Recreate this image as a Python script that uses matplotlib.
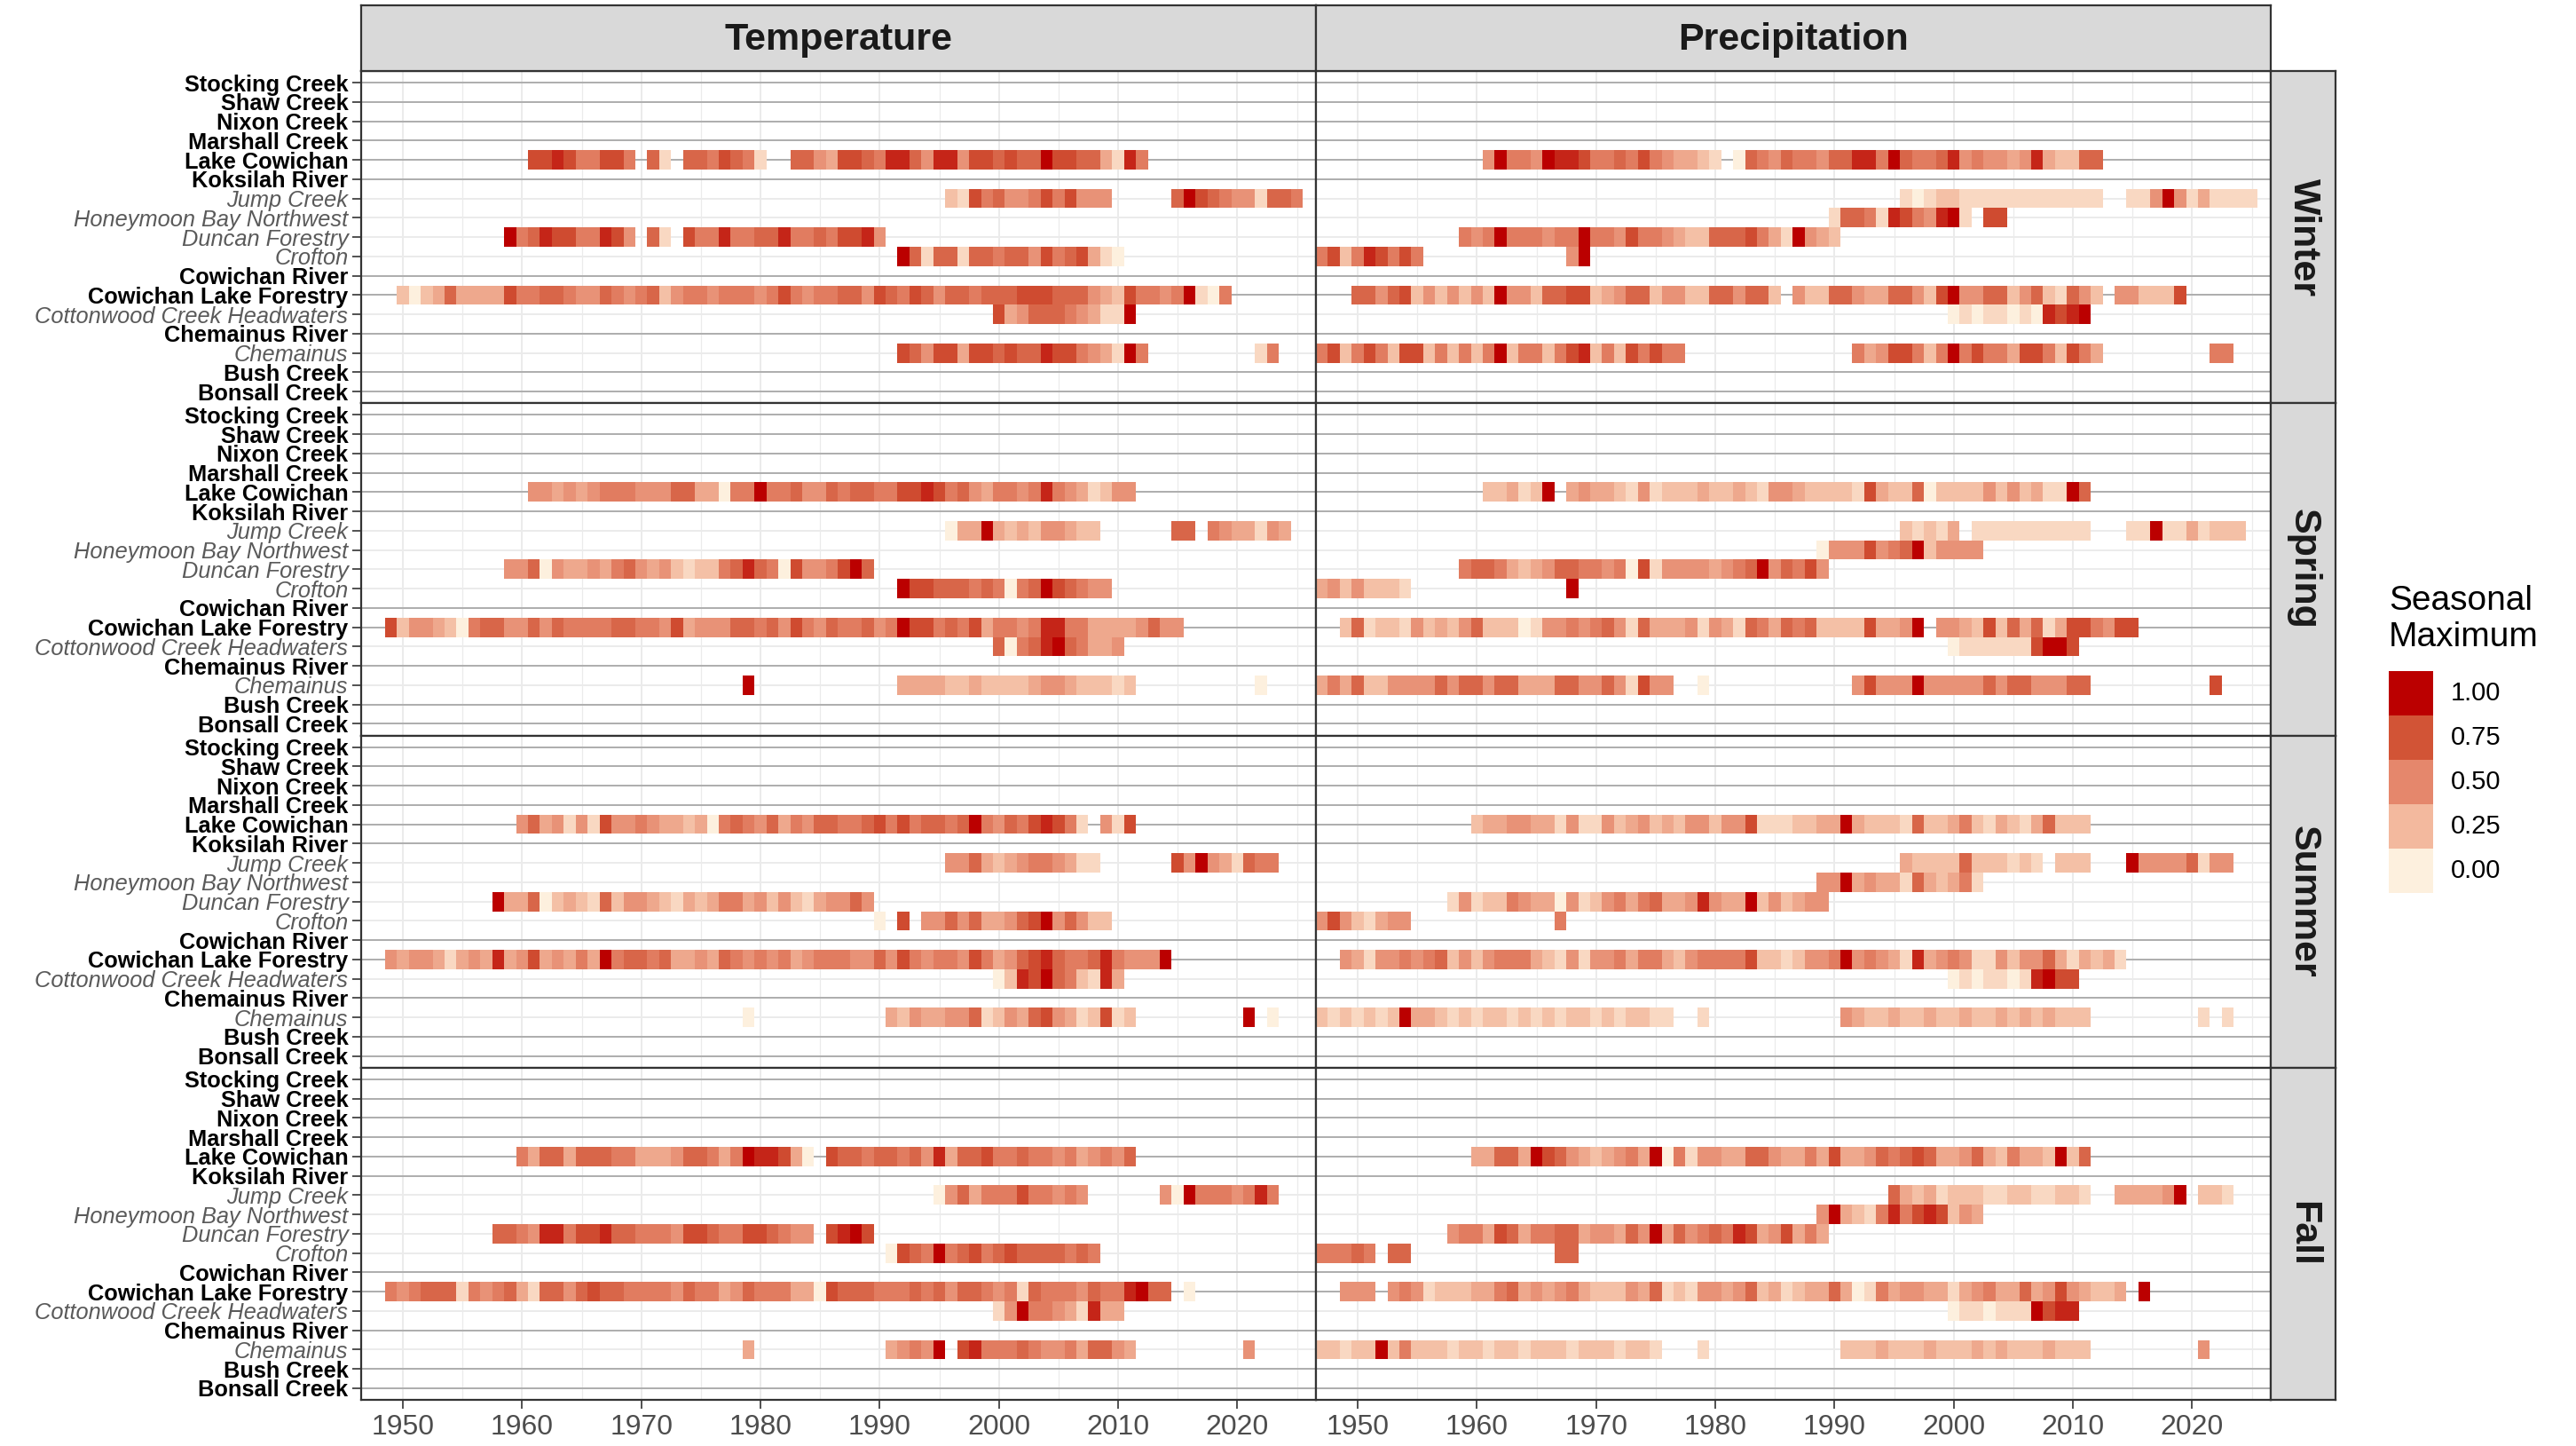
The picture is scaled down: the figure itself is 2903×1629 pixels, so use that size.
import numpy as np
import matplotlib
matplotlib.use("Agg")
import matplotlib.pyplot as plt
from matplotlib.colors import LinearSegmentedColormap
from matplotlib.patches import Rectangle

plt.rcParams['font.family'] = ['Liberation Sans', 'DejaVu Sans']

# ---------------- data ----------------
# stations from bottom to top of each panel
STATIONS = ["Bonsall Creek", "Bush Creek", "Chemainus", "Chemainus River",
            "Cottonwood Creek Headwaters", "Cowichan Lake Forestry", "Cowichan River",
            "Crofton", "Duncan Forestry", "Honeymoon Bay Northwest", "Jump Creek",
            "Koksilah River", "Lake Cowichan", "Marshall Creek", "Nixon Creek",
            "Shaw Creek", "Stocking Creek"]
BOLD_STATIONS = ["Bonsall Creek", "Bush Creek", "Chemainus River", "Cowichan Lake Forestry",
                 "Cowichan River", "Koksilah River", "Lake Cowichan", "Marshall Creek",
                 "Nixon Creek", "Shaw Creek", "Stocking Creek"]
SEASONS = ["Winter", "Spring", "Summer", "Fall"]
VARIABLES = ["Temperature", "Precipitation"]

# Seasonal maximum per year: each char is a value d/9 (0..1), '.' = no data
WINTER_TEMPERATURE = {
    "Lake Cowichan": [(1961, "778755775.61.6657651"), (1983, "664377658864884776766977663185")],
    "Jump Creek": [(1996, "21756445757444"), (2015, "69765441665")],
    "Duncan Forestry": [(1959, "95687755874.61.75585566855657784")],
    "Crofton": [(1992, "9616616656647567310")],
    "Cowichan Lake Forestry": [(1950, "2023633337" "5566544654" "5624554555" "4575455664"
                                       "7657646656" "6677766643" "2755459105")],
    "Cottonwood Creek Headwaters": [(2000, "734666543119")],
    "Chemainus": [(1992, "764773776766877543195"), (2022, "15")],
}
WINTER_PRECIPITATION = {
    "Lake Cowichan": [(1961, "49554988755657543321"), (1982, "0654655466885965568454434832266")],
    "Jump Creek": [(1996, "10122111111111111"), (2015, "11494131111")],
    "Honeymoon Bay Northwest": [(1990, "166518754891.77")],
    "Duncan Forestry": [(1959, "5459555455" "9554755432" "2666753194" "32")],
    "Crofton": [(1947, "572587575"), (1968, "49")],
    "Cowichan Lake Forestry": [(1950, "6646724242" "4294426677" "2346624422" "664662.422"
                                       "6643366427" "9446624621" "642.442227")],
    "Cottonwood Creek Headwaters": [(2000, "010110108789")],
    "Chemainus": [(1947, "5725752772" "5252592552" "5782527575" "5"),
                  (1992, "534775259575537752753"), (2022, "55")],
}
SPRING_TEMPERATURE = {
    "Lake Cowichan": [(1961, "4434345554" "4466330559" "5564465665" "5778756435" "54585431244")],
    "Jump Creek": [(1996, "0339323244322"), (2015, "66.5433143")],
    "Duncan Forestry": [(1959, "4460433435" "6434212256" "8650744579" "6")],
    "Crofton": [(1992, "977666565056976544")],
    "Cowichan Lake Forestry": [(1949, "7" "2443205664" "4646555566" "5547344466" "5647546556"
                                       "4597756573" "5545885533" "334644")],
    "Cottonwood Creek Headwaters": [(2000, "60568965334")],
    "Chemainus": [(1979, "9"), (1992, "33332232222344322212"), (2022, "0")],
}
SPRING_PRECIPITATION = {
    "Lake Cowichan": [(1961, "223129.343" "3214122232" "2321443222" "2173226022" "22424231196")],
    "Jump Creek": [(1996, "21213.1111111111"), (2015, "1191131222")],
    "Honeymoon Bay Northwest": [(1989, "04447456924444")],
    "Duncan Forestry": [(1959, "5665323466" "5545071444" "4345694657" "4")],
    "Crofton": [(1947, "34242221"), (1968, "9")],
    "Cowichan Lake Forestry": [(1949, "2" "6122142324" "6222014454" "5641633341" "4316536562"
                                       "22273349.4" "4327263613" "775477")],
    "Cottonwood Creek Headwaters": [(2000, "01111117997")],
    "Chemainus": [(1947, "3536224444" "6466466333" "6644641744"), (1979, "0"),
                  (1992, "47444944444646644466"), (2022, "7")],
}
SUMMER_TEMPERATURE = {
    "Lake Cowichan": [(1960, "4634141744" "5433230565" "4635466556" "7575665695" "46578751.417")],
    "Jump Creek": [(1996, "4463234554311"), (2015, "749431655")],
    "Duncan Forestry": [(1958, "9336023216" "2443213235" "5342421344" "64")],
    "Crofton": [(1990, "0.7.4464633467946422")],
    "Cowichan Lake Forestry": [(1949, "4" "3443134383" "4734353956" "6563343654" "5453455544"
                                       "6475455475" "3467865568" "54449")],
    "Cottonwood Creek Headwaters": [(2000, "02879652183")],
    "Chemainus": [(1979, "0"), (1991, "324334461243674312712"), (2021, "9.0")],
}
SUMMER_PRECIPITATION = {
    "Lake Cowichan": [(1960, "2334433141" "1423423244" "2447111223" "3932221622" "352132136222")],
    "Jump Creek": [(1996, "322226222121.222"), (2015, "944446144")],
    "Honeymoon Bay Northwest": [(1989, "44934331632351")],
    "Duncan Forestry": [(1958, "1412254330" "4124535633" "4843392423" "44")],
    "Crofton": [(1947, "47421344"), (1967, "5")],
    "Cowichan Lake Forestry": [(1949, "4" "3144545624" "2455532141" "4453553245" "5557221244"
                                       "5945431834" "5411424463" "13231")],
    "Cottonwood Creek Headwaters": [(2000, "01011018977")],
    "Chemainus": [(1947, "2121212933" "2121221212" "1221212211"), (1979, "1"),
                  (1991, "432232232232232323222"), (2021, "1.1")],
}
FALL_TEMPERATURE = {
    "Lake Cowichan": [(1960, "5366366655" "3334665359" "88730"),
                      (1986, "7665665648" "3667556554" "534546")],
    "Jump Creek": [(1995, "0463555755454"), (2014, "4095554585")],
    "Duncan Forestry": [(1958, "6654885778" "6655547765" "5776544"), (1986, "7897")],
    "Crofton": [(1991, "076595675676666565")],
    "Cowichan Lake Forestry": [(1949, "5" "4566615456" "3166467665" "5554655346" "5553307666"
                                       "5556564665" "4516555465" "58966"), (2016, "0")],
    "Cottonwood Creek Headwaters": [(2000, "14955431833")],
    "Chemainus": [(1979, "3"), (1991, "34549.785556544536643"), (2021, "4")],
}
FALL_PRECIPITATION = {
    "Lake Cowichan": [(1960, "3366397643" "2345390514" "4336643353" "7334656763" "346325332926")],
    "Jump Creek": [(1995, "63231222112211221"), (2014, "333349.221")],
    "Honeymoon Bay Northwest": [(1989, "49321585787243")],
    "Duncan Forestry": [(1958, "4553763556" "6344364936" "4565873473" "53")],
    "Crofton": [(1947, "55565.66"), (1967, "66")],
    "Cowichan Lake Forestry": [(1949, "4" "44.4541222" "3356343453" "2224361214" "4346231233"
                                       "6301534433" "1345336347" "43223.9")],
    "Cottonwood Creek Headwaters": [(2000, "01101119788")],
    "Chemainus": [(1947, "2212292522" "2122122122" "212221221"), (1979, "1"),
                  (1991, "222322232223232223222"), (2021, "4")],
}

PANEL_DATA = {
    ("Winter", "Temperature"): WINTER_TEMPERATURE,
    ("Winter", "Precipitation"): WINTER_PRECIPITATION,
    ("Spring", "Temperature"): SPRING_TEMPERATURE,
    ("Spring", "Precipitation"): SPRING_PRECIPITATION,
    ("Summer", "Temperature"): SUMMER_TEMPERATURE,
    ("Summer", "Precipitation"): SUMMER_PRECIPITATION,
    ("Fall", "Temperature"): FALL_TEMPERATURE,
    ("Fall", "Precipitation"): FALL_PRECIPITATION,
}

LEGEND_BREAKS = [1.00, 0.75, 0.50, 0.25, 0.00]
LEGEND_LABELS = ["1.00", "0.75", "0.50", "0.25", "0.00"]
YEAR_TICKS = list(range(1950, 2021, 10))
YEAR_MINOR = list(range(1955, 2026, 10))
YEARS = np.arange(1940, 2027)

cmap = LinearSegmentedColormap.from_list(
    "seasonal", [(0.0, "#FDF0DE"), (0.25, "#F3B99E"), (0.5, "#E5876C"),
                 (0.75, "#D25537"), (1.0, "#BB0000")])


def panel_matrix(data):
    z = np.full((len(STATIONS), len(YEARS)), np.nan)
    for st, segs in data.items():
        r = STATIONS.index(st)
        for start, s in segs:
            for i, ch in enumerate(s):
                if ch != '.':
                    z[r, start + i - YEARS[0]] = int(ch) / 9.0
    return z


# ---------------- layout ----------------
W, H = 2903, 1629
fig = plt.figure(figsize=(W / 100, H / 100), dpi=100)
fig.patch.set_facecolor("white")

LEFT, PW = 407, 1076
TOP, PH = 80, 374.25
STRIP_TOP = 6
STRIP_W = 73
BORDER = "#333333"

xe = np.arange(YEARS[0] - 0.5, YEARS[-1] + 1.0, 1.0)
ye = np.arange(0.5, len(STATIONS) + 1.0, 1.0)

for r, season in enumerate(SEASONS):
    for c, var in enumerate(VARIABLES):
        x0 = LEFT + c * PW
        y0 = TOP + r * PH
        ax = fig.add_axes([x0 / W, 1 - (y0 + PH) / H, PW / W, PH / H])
        ax.set_facecolor("white")
        ax.set_axisbelow(True)

        z = panel_matrix(PANEL_DATA[(season, var)])
        ax.pcolormesh(xe, ye, np.ma.masked_invalid(z), cmap=cmap, vmin=0, vmax=1,
                      shading="flat", edgecolors="none", linewidth=0,
                      antialiased=False, zorder=1)

        for st in BOLD_STATIONS:
            ax.axhline(STATIONS.index(st) + 1, color="#A9A9A9", lw=1.3, zorder=0.8)

        ax.set_xlim(1946.5, 2026.6)
        ax.set_ylim(0.4, len(STATIONS) + 0.6)
        ax.set_xticks(YEAR_TICKS)
        ax.set_xticks(YEAR_MINOR, minor=True)
        ax.set_yticks(np.arange(1, len(STATIONS) + 1))
        ax.grid(which="major", axis="both", color="#EBEBEB", lw=1.4, zorder=0.5)
        ax.grid(which="minor", axis="x", color="#EBEBEB", lw=0.9, zorder=0.5)
        ax.tick_params(which="minor", length=0)

        for sp in ax.spines.values():
            sp.set_color(BORDER)
            sp.set_linewidth(1.6)
            sp.set_zorder(3)

        if c == 0:
            ax.set_yticklabels(STATIONS)
            ax.tick_params(axis="y", length=7.5, width=1.2, color=BORDER, pad=3,
                           labelsize=18.3)
            for lab, st in zip(ax.get_yticklabels(), STATIONS):
                if st in BOLD_STATIONS:
                    lab.set_fontweight("bold")
                    lab.set_color("black")
                else:
                    lab.set_fontstyle("italic")
                    lab.set_color("#5A5A5A")
        else:
            ax.tick_params(axis="y", length=0, labelleft=False)

        if r == len(SEASONS) - 1:
            ax.tick_params(axis="x", length=7.5, width=1.2, color=BORDER, pad=4,
                           labelsize=23, labelcolor="#4D4D4D")
        else:
            ax.tick_params(axis="x", length=0, labelbottom=False)

        # right strip (season)
        if c == len(VARIABLES) - 1:
            sax = fig.add_axes([(x0 + PW) / W, 1 - (y0 + PH) / H, STRIP_W / W, PH / H])
            sax.set_facecolor("#D9D9D9")
            sax.set_xticks([]); sax.set_yticks([])
            for sp in sax.spines.values():
                sp.set_color(BORDER); sp.set_linewidth(1.6)
            sax.text(0.5, 0.5, season, rotation=-90, ha="center", va="center",
                     fontsize=31, fontweight="bold", color="#1A1A1A",
                     transform=sax.transAxes)

        # top strip (variable)
        if r == 0:
            tax = fig.add_axes([x0 / W, 1 - TOP / H, PW / W, (TOP - STRIP_TOP) / H])
            tax.set_facecolor("#D9D9D9")
            tax.set_xticks([]); tax.set_yticks([])
            for sp in tax.spines.values():
                sp.set_color(BORDER); sp.set_linewidth(1.6)
            tax.text(0.5, 0.47, var, ha="center", va="center", fontsize=31,
                     fontweight="bold", color="#1A1A1A", transform=tax.transAxes)

# ---------------- legend ----------------
LX, LY, KEY = 2692, 756, 50
fig.text(LX / W, 1 - 687 / H, "Seasonal", fontsize=28, color="black",
         ha="left", va="baseline")
fig.text(LX / W, 1 - 728 / H, "Maximum", fontsize=28, color="black",
         ha="left", va="baseline")
for i, (v, lab) in enumerate(zip(LEGEND_BREAKS, LEGEND_LABELS)):
    ky = LY + i * KEY
    fig.add_artist(Rectangle((LX / W, 1 - (ky + KEY) / H), KEY / W, KEY / H,
                             transform=fig.transFigure, facecolor=cmap(v),
                             edgecolor="none"))
    fig.text(2762 / W, 1 - (ky + KEY / 2) / H, lab, fontsize=21, color="black",
             ha="left", va="center")

fig.savefig("out.png", dpi=100)
